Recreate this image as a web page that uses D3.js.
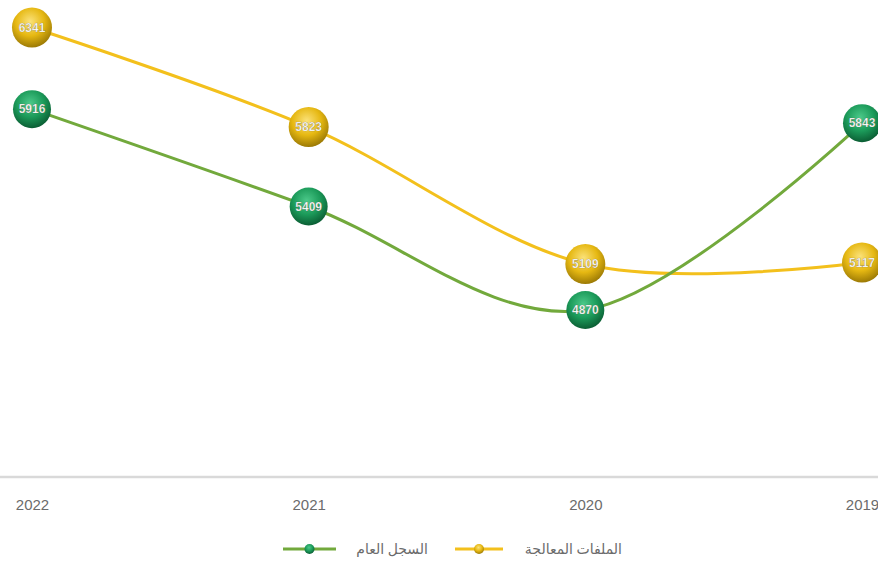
<!DOCTYPE html>
<html>
<head>
<meta charset="utf-8">
<script src="https://cdn.jsdelivr.net/npm/d3@7"></script>
<style>
  html, body { margin: 0; padding: 0; background: #ffffff; }
  svg { display: block; }
</style>
</head>
<body>
<svg id="chart" width="878" height="562"></svg>
<script>
// Years shown left to right (most recent first)
const years = ["2022", "2021", "2020", "2019"];
// Processed files (yellow series)
const processedFiles = [6341, 5823, 5109, 5117];
// General register (green series)
const generalRegister = [5916, 5409, 4870, 5843];
const seriesNames = ["الملفات المعالجة", "السجل العام"];

const svg = d3.select("#chart");
const W = 878, H = 562;

const x = d3.scalePoint().domain(years).range([32, 862]);
const y = d3.scaleLinear().domain([4000, 6500]).range([477, -3]);

const defs = svg.append("defs");
function sphere(id, light, mid, dark) {
  const g = defs.append("radialGradient").attr("id", id)
    .attr("cx", "45%").attr("cy", "35%").attr("r", "65%");
  g.append("stop").attr("offset", "0%").attr("stop-color", light);
  g.append("stop").attr("offset", "55%").attr("stop-color", mid);
  g.append("stop").attr("offset", "100%").attr("stop-color", dark);
}
sphere("gold", "#fbe27a", "#e6b812", "#9c7a05");
sphere("green", "#4cc98a", "#1c9b5a", "#0b5e34");

// Category axis line
svg.append("line")
  .attr("x1", 0).attr("x2", W).attr("y1", y(4000)).attr("y2", y(4000))
  .attr("stroke", "#d9d9d9").attr("stroke-width", 2.5);

const xAxis = svg.append("g").attr("transform", `translate(0,${y(4000)})`)
  .call(d3.axisBottom(x).tickSize(0).tickPadding(22));
xAxis.select(".domain").remove();
xAxis.selectAll("text")
  .attr("fill", "#6b6b6b")
  .style("font-family", "'Liberation Sans', Arial, sans-serif")
  .style("font-size", "15px");

const line = d3.line()
  .x((d, i) => x(years[i]))
  .y(d => y(d))
  .curve(d3.curveCardinal.tension(0));

const series = [
  { name: seriesNames[0], values: processedFiles, stroke: "#f3c01c", fill: "url(#gold)", r: 20 },
  { name: seriesNames[1], values: generalRegister, stroke: "#72a93c", fill: "url(#green)", r: 19 }
];

series.forEach(s => {
  svg.append("path").datum(s.values)
    .attr("d", line)
    .attr("fill", "none")
    .attr("stroke", s.stroke)
    .attr("stroke-width", 3);
});

series.forEach(s => {
  const g = svg.append("g");
  g.selectAll("circle").data(s.values).join("circle")
    .attr("cx", (d, i) => x(years[i]))
    .attr("cy", d => y(d))
    .attr("r", s.r)
    .attr("fill", s.fill);
  g.selectAll("text").data(s.values).join("text")
    .attr("x", (d, i) => x(years[i]))
    .attr("y", d => y(d))
    .attr("dy", "0.35em")
    .attr("text-anchor", "middle")
    .attr("fill", "#ffffff")
    .attr("stroke", "rgba(60,50,20,0.35)")
    .attr("stroke-width", 0.6)
    .style("font-family", "'Liberation Sans', Arial, sans-serif")
    .style("font-size", "12px")
    .style("font-weight", "bold")
    .text(d => d);
});

// Legend (right to left)
const legendY = 549;
const legendItems = [
  { name: seriesNames[0], stroke: "#f3c01c", fill: "url(#gold)", x1: 455, x2: 503, tx: 622 },
  { name: seriesNames[1], stroke: "#72a93c", fill: "url(#green)", x1: 283, x2: 336, tx: 428 }
];
legendItems.forEach(l => {
  svg.append("line")
    .attr("x1", l.x1).attr("x2", l.x2).attr("y1", legendY).attr("y2", legendY)
    .attr("stroke", l.stroke).attr("stroke-width", 3);
  svg.append("circle")
    .attr("cx", (l.x1 + l.x2) / 2).attr("cy", legendY).attr("r", 5)
    .attr("fill", l.fill);
  svg.append("text")
    .attr("x", l.tx).attr("y", legendY).attr("dy", "0.35em")
    .attr("text-anchor", "end")
    .attr("fill", "#6b6b6b")
    .style("font-family", "'Noto Sans', 'DejaVu Sans', sans-serif")
    .style("font-size", "14px")
    .text(l.name);
});
</script>
</body>
</html>
